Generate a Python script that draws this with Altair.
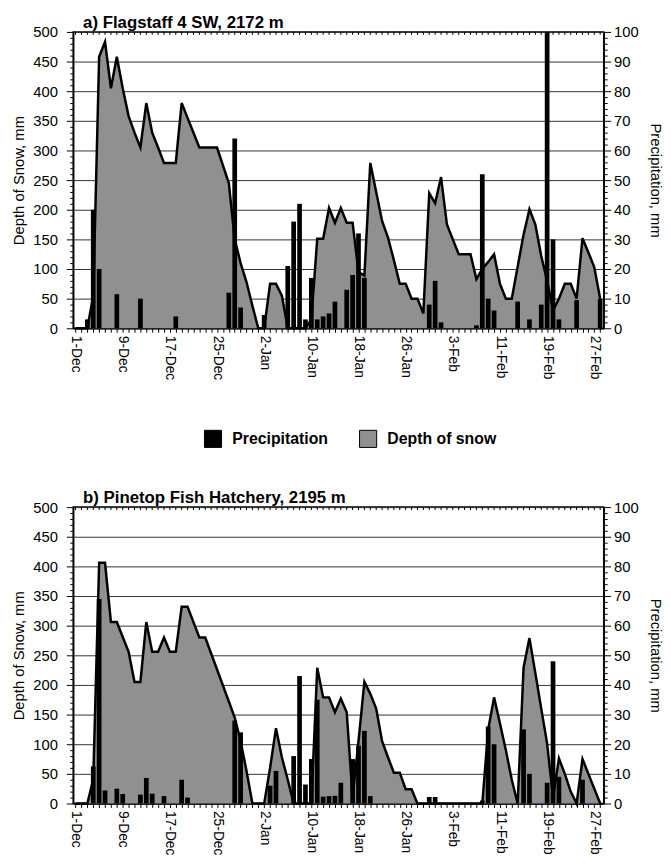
import altair as alt
import pandas as pd

# ---------------- data ----------------
days = list(range(90))  # 0 = 1-Dec ... 89 = 28-Feb
tick_labels = ["1-Dec", "9-Dec", "17-Dec", "25-Dec", "2-Jan", "10-Jan",
               "18-Jan", "26-Jan", "3-Feb", "11-Feb", "19-Feb", "27-Feb"]

# a) Flagstaff 4 SW, 2172 m
snow_a = [0, 0, 0, 55, 458, 483, 405, 458, 405, 358,
          330, 305, 380, 330, 305, 279, 279, 279, 380, 355,
          330, 305, 305, 305, 305, 275, 245, 150, 110, 78,
          38, 0, 0, 75, 75, 55, 0, 0, 0, 0,
          15, 151, 151, 203, 178, 203, 178, 178, 95, 89,
          279, 230, 181, 153, 115, 75, 75, 50, 50, 25,
          228, 211, 255, 175, 150, 125, 125, 125, 83, 100,
          112, 125, 75, 50, 50, 104, 158, 201, 175, 122,
          80, 30, 50, 75, 75, 50, 152, 128, 103, 50]
precip_a = [0, 0, 3, 40, 20, 0, 0, 11.5, 0, 0,
            0, 10, 0, 0, 0, 0, 0, 4, 0, 0,
            0, 0, 0, 0, 0, 0, 12, 64, 7, 0,
            0, 0, 4.5, 0, 0, 0, 21, 36, 42, 3,
            17, 3, 4, 5, 9, 0, 13, 18, 32, 17,
            0, 0, 0, 0, 0, 0, 0, 0, 0, 0,
            8, 16, 2, 0, 0, 0, 0, 0, 1, 52,
            10, 6, 0, 0, 0, 9, 0, 3, 0, 8,
            100, 30, 3, 0, 0, 9.5, 0, 0, 0, 10]

# b) Pinetop Fish Hatchery, 2195 m
snow_b = [0, 0, 0, 41, 406, 406, 306, 306, 281, 256,
          205, 205, 306, 256, 256, 280, 256, 256, 332, 332,
          306, 280, 280, 253, 226, 199, 172, 145, 105, 55,
          0, 0, 0, 60, 127, 78, 40, 0, 0, 0,
          0, 229, 179, 179, 154, 177, 154, 10, 105, 205,
          185, 160, 105, 78, 52, 52, 24, 24, 0, 0,
          0, 0, 0, 0, 0, 0, 0, 0, 0, 0,
          125, 179, 135, 90, 40, 0, 229, 279, 220, 160,
          101, 10, 76, 50, 20, 0, 75, 50, 25, 0]
precip_b = [0, 0, 0, 12.5, 69, 4.4, 0, 5, 3.2, 0,
            0, 3, 8.6, 3.3, 0, 2.5, 0, 0, 8, 2,
            0, 0, 0, 0, 0, 0, 0, 28, 24, 0,
            0, 0, 0, 6, 11, 0, 0, 16, 43, 6.4,
            15, 35, 2.3, 2.5, 2.6, 7, 0, 15, 19.5, 24.5,
            2.5, 0, 0, 0, 0, 0, 0, 0, 0, 0,
            2.2, 2.2, 0, 0, 0, 0, 0, 0, 0, 1,
            26, 20, 0, 0, 0, 0, 25, 10, 0, 0,
            7, 48, 9, 0, 0, 0, 8, 0, 0, 0]

series_names = ["Precipitation", "Depth of snow"]
series_colors = ["#000000", "#909090"]

FONT = "Liberation Sans"
W, H = 537, 300

label_array = "[" + ",".join("'" + t + "'" for t in tick_labels) + "]"
x_label_expr = f"datum.value % 8 === 0 ? {label_array}[datum.value / 8] : ''"


def make_panel(snow, precip, title, with_legend):
    df = pd.DataFrame({"day": days, "snow": snow, "precip": precip})
    df["snow_s"] = series_names[1]
    df["precip_s"] = series_names[0]

    xscale = alt.Scale(domain=[-0.4, 89.6], nice=False, zero=False)
    xaxis = alt.Axis(values=days, labelExpr=x_label_expr, title=None,
                     labelAngle=90, labelFontSize=14, tickSize=4,
                     labelPadding=3, labelFlush=False, labelOverlap=False,
                     grid=False, domainColor="black", domainWidth=1.5,
                     tickColor="black", labelColor="black")

    left_axis = alt.Axis(
        values=list(range(0, 501, 10)),
        labelExpr="datum.value % 50 === 0 ? datum.label : ''",
        tickSize={"condition": {"test": "datum.value % 50 === 0", "value": 7}, "value": 3.5},
        grid=True, gridColor="#333333", gridWidth=1,
        gridOpacity={"condition": {"test": "datum.value % 50 === 0", "value": 1}, "value": 0},
        title="Depth of Snow, mm", titleFontSize=15, titleFontWeight="normal",
        titlePadding=6, labelFontSize=15, labelPadding=9,
        labelFlush=False, labelOverlap=False,
        domainColor="black", domainWidth=1.5, tickColor="black",
        labelColor="black", titleColor="black", orient="left")

    right_axis = alt.Axis(
        values=list(range(0, 101, 2)),
        labelExpr="datum.value % 10 === 0 ? datum.label : ''",
        tickSize={"condition": {"test": "datum.value % 10 === 0", "value": 7}, "value": 3.5},
        grid=False,
        title="Precipitation, mm", titleFontSize=15, titleFontWeight="normal",
        titlePadding=9, labelFontSize=15, labelPadding=3,
        labelFlush=False, labelOverlap=False,
        domainColor="black", domainWidth=1.5, tickColor="black",
        labelColor="black", titleColor="black", orient="right")

    cscale = alt.Scale(domain=series_names, range=series_colors)
    if with_legend:
        leg = alt.Legend(title=None, orient="none", legendX=132, legendY=402,
                         direction="horizontal", symbolType="square",
                         symbolSize=300, symbolStrokeColor="black",
                         symbolStrokeWidth=1, symbolOpacity=1,
                         labelFontSize=16, labelFontWeight="bold",
                         labelColor="black", labelOffset=10,
                         columnPadding=29, padding=0)
        area_color = alt.Color("snow_s:N", scale=cscale, legend=leg)
        bar_color = alt.Color("precip_s:N", scale=cscale, legend=leg)
    else:
        area_color = alt.value(series_colors[1])
        bar_color = alt.value(series_colors[0])

    base = alt.Chart(df)
    ysnow = alt.Scale(domain=[0, 500], nice=False, zero=True)

    area = base.mark_area(opacity=1).encode(
        x=alt.X("day:Q", scale=xscale, axis=xaxis),
        y=alt.Y("snow:Q", scale=ysnow, axis=left_axis),
        color=area_color,
    )
    bars = base.transform_filter("datum.precip > 0").transform_calculate(
        x1="datum.day - 0.4", x2="datum.day + 0.4"
    ).mark_bar(opacity=1).encode(
        x=alt.X("x1:Q", scale=xscale, axis=xaxis),
        x2="x2:Q",
        y=alt.Y("precip:Q", scale=alt.Scale(domain=[0, 100], nice=False, zero=True),
                axis=right_axis),
        y2=alt.datum(0),
        color=bar_color,
    )
    line = base.mark_line(color="black", strokeWidth=2.5).encode(
        x=alt.X("day:Q", scale=xscale, axis=xaxis),
        y=alt.Y("snow:Q", scale=ysnow, axis=None),
    )
    topticks = base.mark_rule(color="black", strokeWidth=1).encode(
        x=alt.X("day:Q", scale=xscale, axis=xaxis),
        y=alt.value(0),
        y2=alt.value(3),
    )

    return alt.layer(area, bars, line, topticks).resolve_scale(
        y="independent"
    ).properties(
        width=W, height=H,
        title=alt.TitleParams(title, anchor="start", frame="group",
                              fontSize=17, fontWeight="bold", font=FONT,
                              offset=-7, dx=10, color="black"),
    )


pa = make_panel(snow_a, precip_a, "a) Flagstaff 4 SW, 2172 m", True)
pb = make_panel(snow_b, precip_b, "b) Pinetop Fish Hatchery, 2195 m", False)

chart = alt.vconcat(pa, pb, spacing=38).resolve_scale(
    color="independent"
).resolve_legend(color="independent").configure(
    font=FONT,
    padding={"left": 3, "top": 0, "right": 0, "bottom": 0},
).configure_view(stroke="black", strokeWidth=1.5).configure_axis(
    labelFont=FONT, titleFont=FONT
).configure_legend(labelFont=FONT)

chart.save("out.html", embed_options={"renderer": "svg", "actions": False})
